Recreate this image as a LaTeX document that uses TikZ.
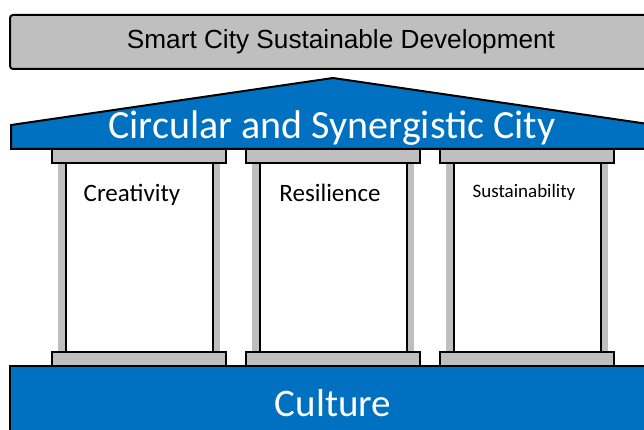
\documentclass[tikz,border=0pt]{standalone}
\usepackage{fontspec}
\setmainfont{Carlito}
\newfontfamily\arialf{Liberation Sans}
\definecolor{roofblue}{HTML}{0070C0}
\definecolor{capgray}{HTML}{BFBFBF}
\begin{document}
\begin{tikzpicture}[x=1pt,y=-1pt,
  capbox/.style={draw=black,line width=2pt,fill=capgray,minimum width=174pt,minimum height=14pt,inner sep=0pt},
  postbar/.style={fill=capgray},
  postline/.style={draw=black,line width=2pt},
  bluebox/.style={draw=black,line width=2pt,fill=roofblue,line join=miter},
  pillartext/.style={font=\fontsize{25}{30}\selectfont,text=black,anchor=base}]
\useasboundingbox (0,0) rectangle (644,430);
\clip (0,0) rectangle (644,430);
\fill[white] (0,0) rectangle (644,430);
% banner
\draw[line width=2pt,fill=capgray,rounded corners=3pt] (10,15) rectangle (660,69);
\node[font=\arialf\fontsize{26.2}{30}\selectfont] (banner) at (341,42) {Smart City Sustainable Development};
% base
\draw[bluebox] (10,366) rectangle (660,440);
\node[text=white,font=\fontsize{39}{44}\selectfont] (culture) at (333,403) {Culture};
% roof
\draw[bluebox] (11,149) -- (11,125) -- (333,78) -- (655,125) -- (655,149) -- cycle;
\node[text=white,font=\fontsize{40}{44}\selectfont,anchor=base] (roof) at (332,139) {Circular and Synergistic City};
% pillars
\foreach \o/\n in {0/a,194/b,388/c}{
  \fill[postbar] ({58+\o},163) rectangle ({66+\o},352);
  \fill[postbar] ({213+\o},163) rectangle ({220+\o},352);
  \draw[postline] ({66+\o},163) -- ({66+\o},352);
  \draw[postline] ({213+\o},163) -- ({213+\o},352);
  \node[capbox] (top\n) at ({139+\o},156.5) {};
  \node[capbox] (bot\n) at ({139+\o},358.5) {};
}
\node[pillartext] (creativity) at (132,202) {Creativity};
\node[pillartext] (resilience) at (330,202) {Resilience};
\node[font=\fontsize{19}{23}\selectfont,anchor=base] (sustainability) at (524,197) {Sustainability};
\end{tikzpicture}
\end{document}
